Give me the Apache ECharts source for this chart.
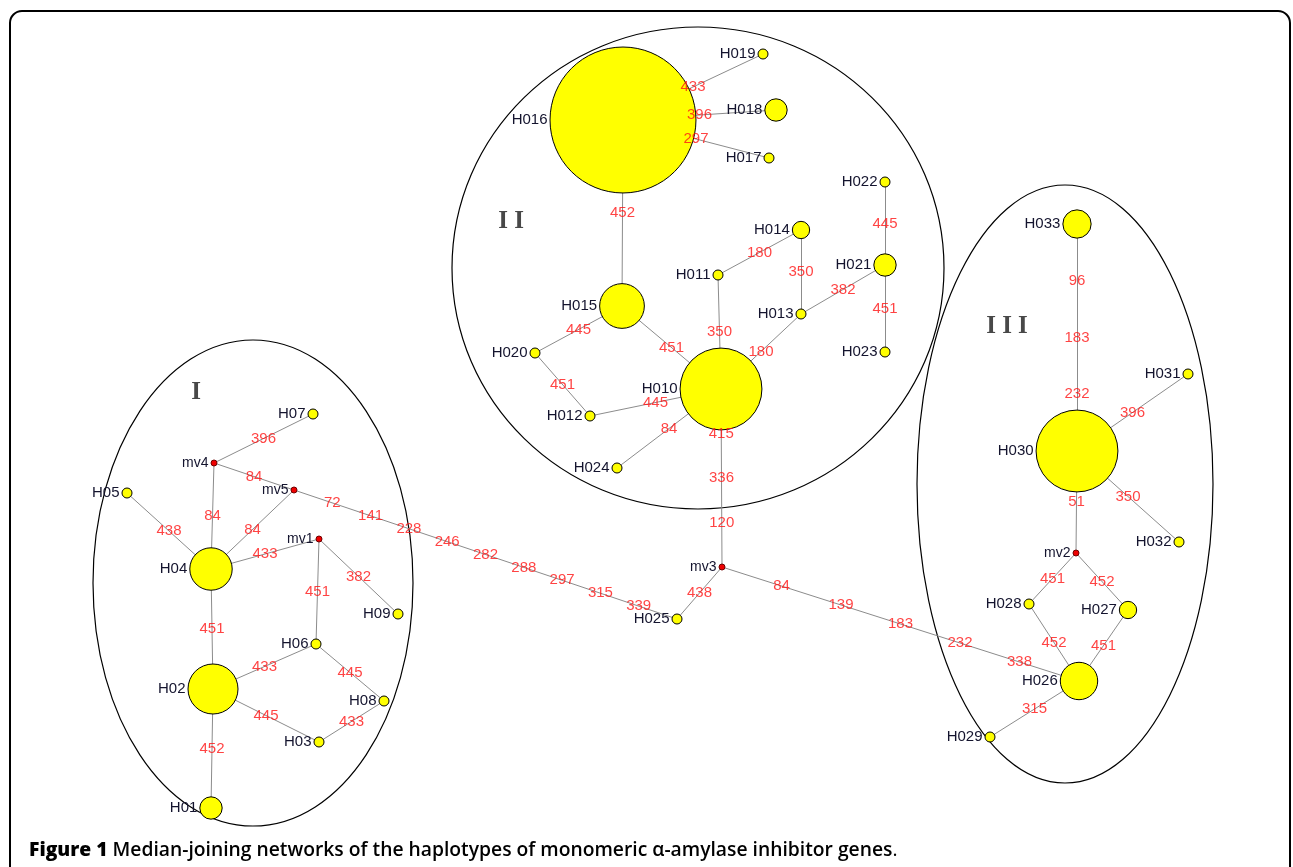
<!DOCTYPE html>
<html>
<head>
<meta charset="utf-8">
<script src="https://cdn.jsdelivr.net/npm/echarts@6/dist/echarts.min.js"></script>
<style>
html,body{margin:0;padding:0;background:#fff;}
#chart{width:1293px;height:867px;}
</style>
</head>
<body>
<div id="chart"></div>
<script>
// ---- Data ----
const nodeNames = ['H01','H02','H03','H04','H05','H06','H07','H08','H09','mv1','mv4','mv5',
  'H010','H011','H012','H013','H014','H015','H016','H017','H018','H019','H020','H021','H022','H023','H024',
  'H025','mv3','H026','H027','H028','H029','H030','H031','H032','H033','mv2'];
const nodeX = [211,213,319,211,127,316,313,384,398,319,214,294,
  721,718,590,801,801,622,623,769,776,763,535,885,885,885,617,
  677,722,1079,1128,1029,990,1077,1188,1179,1077,1076];
const nodeY = [808,689,742,569,493,644,414,701,614,539,463,490,
  389,275,416,314,230,306,120,158,110,54,353,265,182,352,468,
  619,567,681,610,604,737,451,374,542,224,553];
// relative haplotype frequency (0 = median vector)
const nodeFreq = [5,25,1,18,1,1,1,1,1,0,0,0,
  67,1,1,1,3,20,213,1,5,1,1,5,1,1,1,
  1,0,14,3,1,1,67,1,1,8,0];

const edgeFrom = ['mv4','mv4','mv4','mv5','H05','H04','mv1','mv1','H04','H02','H06','H02','H03','H02',
  'mv5','mv3','H010','mv3',
  'H016','H016','H016','H016','H015','H015','H020','H012','H024','H011','H011','H014','H013','H013','H022','H021',
  'H033','H030','H030','H030','mv2','mv2','H028','H027','H026'];
const edgeTo = ['H07','mv5','H04','H04','H04','mv1','H09','H06','H02','H06','H08','H03','H08','H01',
  'H025','H025','mv3','H026',
  'H019','H018','H017','H015','H020','H010','H012','H010','H010','H014','H010','H013','H010','H021','H021','H023',
  'H030','H031','H032','mv2','H028','H027','H026','H026','H029'];
const edgeMutations = [['396'],['84'],['84'],['84'],['438'],['433'],['382'],['451'],['451'],['433'],['445'],['445'],['433'],['452'],
  ['72','141','228','246','282','288','297','315','339'],['438'],['415','336','120'],['84','139','183','232','338'],
  ['433'],['396'],['297'],['452'],['445'],['451'],['451'],['445'],['84'],['180'],['350'],['350'],['180'],['382'],['445'],['451'],
  ['96','183','232'],['396'],['350'],['51'],['451'],['452'],['452'],['451'],['315']];

const groupNames = ['I','I I','I I I'];
const groupCx = [253, 698, 1065];
const groupCy = [583, 268, 484];
const groupRx = [160, 246, 148];
const groupRy = [243, 241, 299];
const groupLabelX = [196, 511, 1007];
const groupLabelY = [393, 222, 327];

const captionBold = 'Figure 1';
const captionText = 'Median-joining networks of the haplotypes of monomeric \u03b1-amylase inhibitor genes';

// ---- Build ----
const idx = {};
nodeNames.forEach((n,i)=>idx[n]=i);

const graphNodes = nodeNames.map((n,i)=>{
  const mv = nodeFreq[i] === 0;
  return {
    name: n,
    value: [nodeX[i], nodeY[i]],
    symbolSize: mv ? 6 : 10*Math.sqrt(nodeFreq[i]),
    itemStyle: mv ? {color:'#ee0000', borderColor:'#700000', borderWidth:1}
                  : {color:'#ffff00', borderColor:'#000', borderWidth:1},
    label: {fontSize: mv ? 14 : 15}
  };
});
const graphLinks = edgeFrom.map((f,i)=>({source:f, target:edgeTo[i]}));

const mutLabels = [];
edgeFrom.forEach((f,i)=>{
  const a = idx[f], b = idx[edgeTo[i]];
  const muts = edgeMutations[i];
  const n = muts.length;
  muts.forEach((m,k)=>{
    const t = (k+1)/(n+1);
    mutLabels.push({value:[nodeX[a]+(nodeX[b]-nodeX[a])*t, nodeY[a]+(nodeY[b]-nodeY[a])*t], t:m});
  });
});

const groupData = groupNames.map((g,i)=>[groupCx[i],groupCy[i],groupRx[i],groupRy[i]]);
const groupLabelData = groupNames.map((g,i)=>({value:[groupLabelX[i],groupLabelY[i]], t:g}));

const chart = echarts.init(document.getElementById('chart'), null, {renderer:'canvas'});
chart.setOption({
  animation:false,
  backgroundColor:'#fff',
  grid:{left:0,right:0,top:0,bottom:0,containLabel:false},
  xAxis:{type:'value',min:0,max:1293,show:false},
  yAxis:{type:'value',min:0,max:867,inverse:true,show:false},
  title:{
    left:24, top:836,
    text:'{b|'+captionBold+'} {r|'+captionText+'}{p|.}',
    textStyle:{
      rich:{
        b:{fontFamily:'Open Sans',fontWeight:800,fontSize:19.3,color:'#000'},
        r:{fontFamily:'Open Sans',fontWeight:600,fontSize:19.3,color:'#000'},
        p:{fontFamily:'Open Sans',fontWeight:400,fontSize:19.3,color:'#000'}
      }
    }
  },
  graphic:[{
    type:'rect', silent:true, z:100,
    shape:{x:10,y:11,width:1280,height:900,r:12},
    style:{fill:'none',stroke:'#000',lineWidth:2}
  }],
  series:[
    {
      type:'custom', coordinateSystem:'cartesian2d', z:1, silent:true,
      data:groupData,
      renderItem:function(params, api){
        const c = api.coord([api.value(0), api.value(1)]);
        const s = api.size([api.value(2), api.value(3)]);
        return {type:'ellipse', shape:{cx:c[0],cy:c[1],rx:s[0],ry:s[1]},
          style:{fill:'none',stroke:'#000',lineWidth:1.2}};
      }
    },
    {
      type:'graph', coordinateSystem:'cartesian2d', z:2, silent:true,
      data:graphNodes, links:graphLinks,
      lineStyle:{color:'#8c8c8c',width:1,opacity:1,curveness:0},
      label:{show:true,position:'left',distance:2,formatter:'{b}',
        fontFamily:'Liberation Sans',fontSize:15,color:'#14142e'},
      emphasis:{disabled:true}
    },
    {
      type:'scatter', z:3, silent:true,
      data:mutLabels, symbolSize:1, itemStyle:{color:'rgba(0,0,0,0)'},
      label:{show:true,position:'inside',formatter:p=>p.data.t,
        fontFamily:'Liberation Sans',fontSize:15,color:'#ff1414'},
      labelLayout:{hideOverlap:false},
      emphasis:{disabled:true}
    },
    {
      type:'scatter', z:3, silent:true,
      data:groupLabelData, symbolSize:1, itemStyle:{color:'rgba(0,0,0,0)'},
      label:{show:true,position:'inside',formatter:p=>p.data.t,
        fontFamily:'Liberation Serif',fontSize:25,fontWeight:'bold',color:'#1a1a1a'},
      emphasis:{disabled:true}
    }
  ]
});
</script>
</body>
</html>
